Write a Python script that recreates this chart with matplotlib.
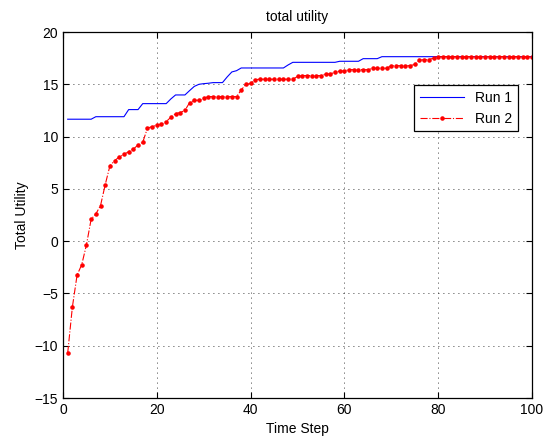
import numpy as np
import matplotlib
matplotlib.use("Agg")
import matplotlib.pyplot as plt

plt.rcParams['font.family'] = ['Liberation Sans', 'DejaVu Sans']

# time steps 1..100
steps = np.arange(1, 101)

run1 = ([11.66] * 6 + [11.9] * 7 + [12.58] * 3 + [13.15] * 6 +
        [13.6, 13.98, 13.98, 13.98, 14.4, 14.8, 15.0, 15.06, 15.1,
         15.16, 15.16, 15.16, 15.7, 16.18, 16.3] +
        [16.56] * 10 + [16.85] + [17.1] * 10 + [17.2] * 5 +
        [17.45] * 4 + [17.64] * 33)

run2 = ([-10.7, -6.3, -3.25, -2.24, -0.35, 2.1, 2.6, 3.4, 5.4, 7.2,
         7.7, 8.05, 8.3, 8.56, 8.8, 9.2, 9.45, 10.8, 10.96, 11.1,
         11.2, 11.43, 11.85, 12.2, 12.3, 12.5, 13.25, 13.47, 13.47, 13.66] +
        [13.82] * 7 + [14.45, 15.0, 15.08, 15.45] + [15.48] * 8 +
        [15.75] + [15.83] * 5 + [15.99] * 2 + [16.15, 16.27, 16.27] +
        [16.4] * 5 + [16.53] * 4 + [16.78] * 5 +
        [16.9, 17.3, 17.36, 17.36, 17.5] + [17.65] * 21)

xticks = [0, 20, 40, 60, 80, 100]
yticks = [-15, -10, -5, 0, 5, 10, 15, 20]

fig = plt.figure(figsize=(5.5, 4.4), dpi=100)
ax = fig.add_axes([63 / 550, 1 - 398 / 440, (532 - 63) / 550, (398 - 32) / 440])

ax.plot(steps, run1, color='blue', lw=0.8, label='Run 1')
ax.plot(steps, run2, color='red', lw=0.8, ls='-.', marker='.', ms=4.5,
        label='Run 2')

ax.set_xlim(0, 100)
ax.set_ylim(-15, 20)
ax.set_xticks(xticks)
ax.set_yticks(yticks)
ax.grid(True, color='black', ls=(0, (1, 5)), lw=0.6)
ax.tick_params(direction='in', top=True, right=True, labelsize=10, length=4)
for s in ax.spines.values():
    s.set_linewidth(0.9)

ax.set_title('total utility', fontsize=10, pad=8)
ax.set_xlabel('Time Step', fontsize=10, labelpad=4)
ax.set_ylabel('Total Utility', fontsize=10)

leg = ax.legend(loc='upper right', bbox_to_anchor=(0.97, 0.855),
                fancybox=False, framealpha=1, edgecolor='black',
                fontsize=10, handlelength=3.2, borderaxespad=0,
                markerscale=1.0)
leg.get_frame().set_linewidth(0.9)

fig.savefig('out.png', dpi=100)
